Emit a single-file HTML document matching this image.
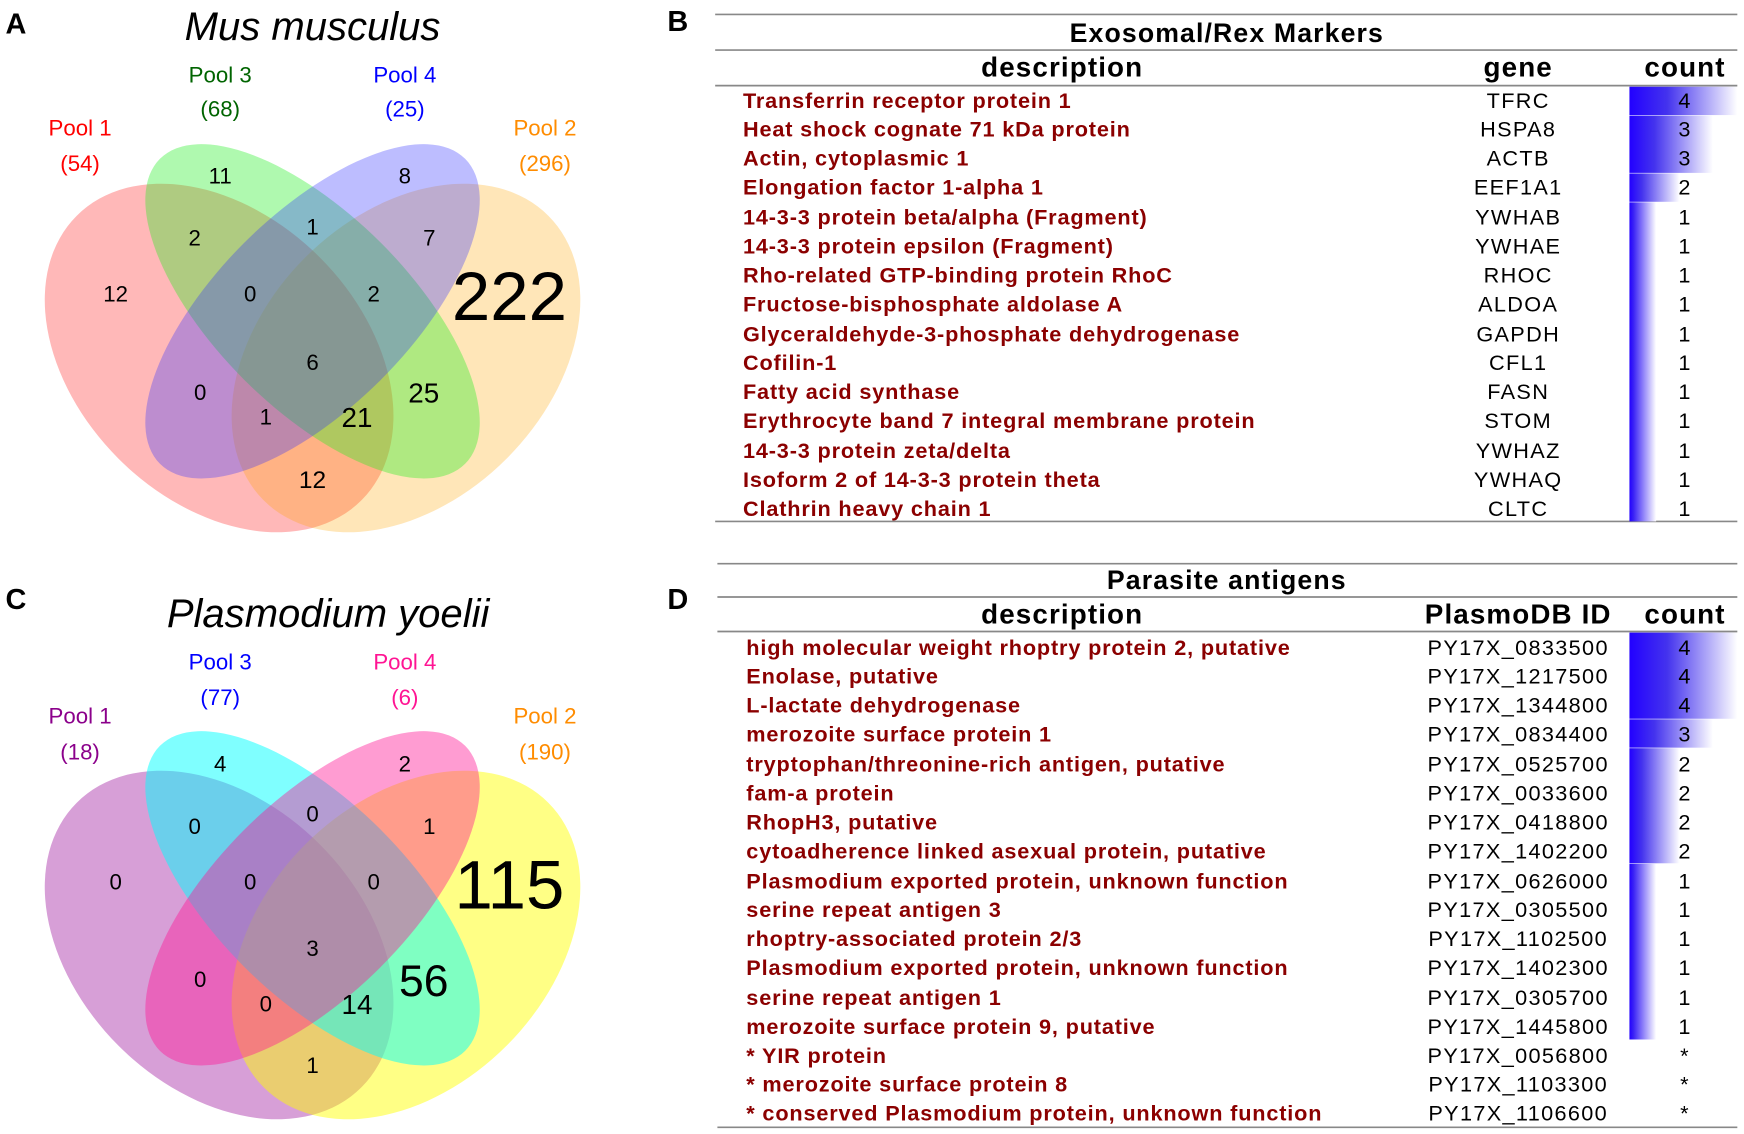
<!DOCTYPE html>
<html><head><meta charset="utf-8"><style>
html,body{margin:0;padding:0;background:#fff;}
svg{display:block;}
.v{font-family:"Liberation Sans",sans-serif;font-size:20px;text-anchor:middle;fill:#000;}
.t{font-family:"Liberation Sans",sans-serif;font-size:19.5px;}
.d{font-weight:bold;fill:#8b0000;letter-spacing:0.75px;}
.c{text-anchor:middle;fill:#000;letter-spacing:1.2px;}
.h{font-family:"Liberation Sans",sans-serif;font-weight:bold;font-size:25px;text-anchor:middle;letter-spacing:1px;}
.L{font-family:"Liberation Sans",sans-serif;font-weight:bold;font-size:26px;}
</style></head><body>
<svg width="1744" height="1134" viewBox="0 0 1568 1020" preserveAspectRatio="none" xmlns="http://www.w3.org/2000/svg">
<defs>
<linearGradient id="g4" x1="0" x2="1" y1="0" y2="0"><stop offset="0" stop-color="#2200ff"/><stop offset="0.35" stop-color="#4433ee"/><stop offset="1" stop-color="#fff"/></linearGradient>
<linearGradient id="g3" x1="0" x2="1" y1="0" y2="0"><stop offset="0" stop-color="#2200ff"/><stop offset="0.3" stop-color="#4433ee"/><stop offset="1" stop-color="#fff"/></linearGradient>
<linearGradient id="g2" x1="0" x2="1" y1="0" y2="0"><stop offset="0" stop-color="#2200ff"/><stop offset="0.25" stop-color="#4433ee"/><stop offset="1" stop-color="#fff"/></linearGradient>
<linearGradient id="g1" x1="0" x2="1" y1="0" y2="0"><stop offset="0" stop-color="#2200ff"/><stop offset="0.15" stop-color="#3a22f5"/><stop offset="1" stop-color="#fff"/></linearGradient>
</defs>

<!-- Panel A -->
<text class="L" x="5" y="30">A</text>
<text x="281" y="36" font-family="Liberation Sans,sans-serif" font-style="italic" font-size="36" text-anchor="middle">Mus musculus</text>
<ellipse cx="197" cy="322" rx="181" ry="128" transform="rotate(45 197 322)" fill="#ff0000" fill-opacity="0.28"/>
<ellipse cx="365" cy="322" rx="181" ry="128" transform="rotate(-45 365 322)" fill="#ffa500" fill-opacity="0.28"/>
<ellipse cx="281" cy="280" rx="194" ry="87" transform="rotate(45 281 280)" fill="#22ee22" fill-opacity="0.36"/>
<ellipse cx="281" cy="280" rx="194" ry="87" transform="rotate(-45 281 280)" fill="#3333ff" fill-opacity="0.32"/>
<g class="v">
<text x="72" y="122" style="fill:#ff0000">Pool 1</text><text x="72" y="154" style="fill:#ff0000">(54)</text>
<text x="198" y="74" style="fill:#006400">Pool 3</text><text x="198" y="105" style="fill:#006400">(68)</text>
<text x="364" y="74" style="fill:#0000ff">Pool 4</text><text x="364" y="105" style="fill:#0000ff">(25)</text>
<text x="490" y="122" style="fill:#ff8c00">Pool 2</text><text x="490" y="154" style="fill:#ff8c00">(296)</text>
<text x="198" y="165">11</text><text x="364" y="165">8</text>
<text x="175" y="221">2</text><text x="281" y="211">1</text><text x="386" y="221">7</text>
<text x="104" y="271">12</text><text x="225" y="271">0</text><text x="336" y="271">2</text>
<text x="458" y="288" style="font-size:62px">222</text>
<text x="281" y="333">6</text><text x="180" y="360">0</text>
<text x="381" y="362" style="font-size:25px">25</text>
<text x="239" y="382">1</text><text x="321" y="384" style="font-size:25px">21</text>
<text x="281" y="439" style="font-size:22px">12</text>
</g>

<!-- Panel C -->
<text class="L" x="5" y="548">C</text>
<text x="295" y="564" font-family="Liberation Sans,sans-serif" font-style="italic" font-size="36" text-anchor="middle">Plasmodium yoelii</text>
<ellipse cx="197" cy="850" rx="181" ry="128" transform="rotate(45 197 850)" fill="#b040b0" fill-opacity="0.5"/>
<ellipse cx="365" cy="850" rx="181" ry="128" transform="rotate(-45 365 850)" fill="#ffff00" fill-opacity="0.48"/>
<ellipse cx="281" cy="808" rx="194" ry="87" transform="rotate(45 281 808)" fill="#00ffff" fill-opacity="0.5"/>
<ellipse cx="281" cy="808" rx="194" ry="87" transform="rotate(-45 281 808)" fill="#ff1493" fill-opacity="0.42"/>
<g class="v">
<text x="72" y="651" style="fill:#8b008b">Pool 1</text><text x="72" y="683" style="fill:#8b008b">(18)</text>
<text x="198" y="602" style="fill:#0000ff">Pool 3</text><text x="198" y="634" style="fill:#0000ff">(77)</text>
<text x="364" y="602" style="fill:#ff1493">Pool 4</text><text x="364" y="634" style="fill:#ff1493">(6)</text>
<text x="490" y="651" style="fill:#ff8c00">Pool 2</text><text x="490" y="683" style="fill:#ff8c00">(190)</text>
<text x="198" y="694">4</text><text x="364" y="694">2</text>
<text x="175" y="750">0</text><text x="281" y="739">0</text><text x="386" y="750">1</text>
<text x="104" y="800">0</text><text x="225" y="800">0</text><text x="336" y="800">0</text>
<text x="458" y="817" style="font-size:62px">115</text>
<text x="281" y="860">3</text><text x="180" y="888">0</text>
<text x="381" y="896" style="font-size:40px">56</text>
<text x="239" y="910">0</text><text x="321" y="912" style="font-size:25px">14</text>
<text x="281" y="965">1</text>
</g>

<!-- Panel B -->
<text class="L" x="600" y="28">B</text>
<g stroke="#888" stroke-width="1.5">
<line x1="643" y1="13" x2="1562" y2="13"/><line x1="643" y1="45" x2="1562" y2="45"/>
<line x1="643" y1="77" x2="1562" y2="77"/><line x1="643" y1="469" x2="1562" y2="469"/>
</g>
<text class="h" x="1103" y="38" style="font-size:24px">Exosomal/Rex Markers</text>
<text class="h" x="955" y="69">description</text><text class="h" x="1365" y="69">gene</text><text class="h" x="1515" y="69">count</text>
<g>
<rect x="1465" y="78" width="97" height="25.5" fill="url(#g4)"/>
<rect x="1465" y="104" width="75" height="51.5" fill="url(#g3)"/>
<rect x="1465" y="156" width="45" height="25.5" fill="url(#g2)"/>
<rect x="1465" y="182" width="24" height="287" fill="url(#g1)"/>
</g>
<g class="t">
<text class="d" x="668" y="97">Transferrin receptor protein 1</text>
<text class="d" x="668" y="123">Heat shock cognate 71 kDa protein</text>
<text class="d" x="668" y="149">Actin, cytoplasmic 1</text>
<text class="d" x="668" y="175">Elongation factor 1-alpha 1</text>
<text class="d" x="668" y="202">14-3-3 protein beta/alpha (Fragment)</text>
<text class="d" x="668" y="228">14-3-3 protein epsilon (Fragment)</text>
<text class="d" x="668" y="254">Rho-related GTP-binding protein RhoC</text>
<text class="d" x="668" y="280">Fructose-bisphosphate aldolase A</text>
<text class="d" x="668" y="307">Glyceraldehyde-3-phosphate dehydrogenase</text>
<text class="d" x="668" y="333">Cofilin-1</text>
<text class="d" x="668" y="359">Fatty acid synthase</text>
<text class="d" x="668" y="385">Erythrocyte band 7 integral membrane protein</text>
<text class="d" x="668" y="412">14-3-3 protein zeta/delta</text>
<text class="d" x="668" y="438">Isoform 2 of 14-3-3 protein theta</text>
<text class="d" x="668" y="464">Clathrin heavy chain 1</text>
<text class="c" x="1365" y="97">TFRC</text><text class="c" x="1515" y="97">4</text>
<text class="c" x="1365" y="123">HSPA8</text><text class="c" x="1515" y="123">3</text>
<text class="c" x="1365" y="149">ACTB</text><text class="c" x="1515" y="149">3</text>
<text class="c" x="1365" y="175">EEF1A1</text><text class="c" x="1515" y="175">2</text>
<text class="c" x="1365" y="202">YWHAB</text><text class="c" x="1515" y="202">1</text>
<text class="c" x="1365" y="228">YWHAE</text><text class="c" x="1515" y="228">1</text>
<text class="c" x="1365" y="254">RHOC</text><text class="c" x="1515" y="254">1</text>
<text class="c" x="1365" y="280">ALDOA</text><text class="c" x="1515" y="280">1</text>
<text class="c" x="1365" y="307">GAPDH</text><text class="c" x="1515" y="307">1</text>
<text class="c" x="1365" y="333">CFL1</text><text class="c" x="1515" y="333">1</text>
<text class="c" x="1365" y="359">FASN</text><text class="c" x="1515" y="359">1</text>
<text class="c" x="1365" y="385">STOM</text><text class="c" x="1515" y="385">1</text>
<text class="c" x="1365" y="412">YWHAZ</text><text class="c" x="1515" y="412">1</text>
<text class="c" x="1365" y="438">YWHAQ</text><text class="c" x="1515" y="438">1</text>
<text class="c" x="1365" y="464">CLTC</text><text class="c" x="1515" y="464">1</text>
</g>

<!-- Panel D -->
<text class="L" x="600" y="548">D</text>
<g stroke="#888" stroke-width="1.5">
<line x1="645" y1="507" x2="1562" y2="507"/><line x1="645" y1="537" x2="1562" y2="537"/>
<line x1="645" y1="568" x2="1562" y2="568"/><line x1="645" y1="1014" x2="1562" y2="1014"/>
</g>
<text class="h" x="1103" y="530" style="font-size:24px">Parasite antigens</text>
<text class="h" x="955" y="561">description</text><text class="h" x="1365" y="561">PlasmoDB ID</text><text class="h" x="1515" y="561">count</text>
<g>
<rect x="1465" y="569" width="97" height="77.5" fill="url(#g4)"/>
<rect x="1465" y="647" width="75" height="25.5" fill="url(#g3)"/>
<rect x="1465" y="673" width="45" height="103.5" fill="url(#g2)"/>
<rect x="1465" y="777" width="24" height="158" fill="url(#g1)"/>
</g>
<g class="t">
<text class="d" x="671" y="589">high molecular weight rhoptry protein 2, putative</text>
<text class="d" x="671" y="615">Enolase, putative</text>
<text class="d" x="671" y="641">L-lactate dehydrogenase</text>
<text class="d" x="671" y="667">merozoite surface protein 1</text>
<text class="d" x="671" y="694">tryptophan/threonine-rich antigen, putative</text>
<text class="d" x="671" y="720">fam-a protein</text>
<text class="d" x="671" y="746">RhopH3, putative</text>
<text class="d" x="671" y="772">cytoadherence linked asexual protein, putative</text>
<text class="d" x="671" y="799">Plasmodium exported protein, unknown function</text>
<text class="d" x="671" y="825">serine repeat antigen 3</text>
<text class="d" x="671" y="851">rhoptry-associated protein 2/3</text>
<text class="d" x="671" y="877">Plasmodium exported protein, unknown function</text>
<text class="d" x="671" y="904">serine repeat antigen 1</text>
<text class="d" x="671" y="930">merozoite surface protein 9, putative</text>
<text class="d" x="671" y="956">* YIR protein</text>
<text class="d" x="671" y="982">* merozoite surface protein 8</text>
<text class="d" x="671" y="1008">* conserved Plasmodium protein, unknown function</text>
<text class="c" x="1365" y="589">PY17X_0833500</text><text class="c" x="1515" y="589">4</text>
<text class="c" x="1365" y="615">PY17X_1217500</text><text class="c" x="1515" y="615">4</text>
<text class="c" x="1365" y="641">PY17X_1344800</text><text class="c" x="1515" y="641">4</text>
<text class="c" x="1365" y="667">PY17X_0834400</text><text class="c" x="1515" y="667">3</text>
<text class="c" x="1365" y="694">PY17X_0525700</text><text class="c" x="1515" y="694">2</text>
<text class="c" x="1365" y="720">PY17X_0033600</text><text class="c" x="1515" y="720">2</text>
<text class="c" x="1365" y="746">PY17X_0418800</text><text class="c" x="1515" y="746">2</text>
<text class="c" x="1365" y="772">PY17X_1402200</text><text class="c" x="1515" y="772">2</text>
<text class="c" x="1365" y="799">PY17X_0626000</text><text class="c" x="1515" y="799">1</text>
<text class="c" x="1365" y="825">PY17X_0305500</text><text class="c" x="1515" y="825">1</text>
<text class="c" x="1365" y="851">PY17X_1102500</text><text class="c" x="1515" y="851">1</text>
<text class="c" x="1365" y="877">PY17X_1402300</text><text class="c" x="1515" y="877">1</text>
<text class="c" x="1365" y="904">PY17X_0305700</text><text class="c" x="1515" y="904">1</text>
<text class="c" x="1365" y="930">PY17X_1445800</text><text class="c" x="1515" y="930">1</text>
<text class="c" x="1365" y="956">PY17X_0056800</text><text class="c" x="1515" y="956">*</text>
<text class="c" x="1365" y="982">PY17X_1103300</text><text class="c" x="1515" y="982">*</text>
<text class="c" x="1365" y="1008">PY17X_1106600</text><text class="c" x="1515" y="1008">*</text>
</g>
</svg>
</body></html>
